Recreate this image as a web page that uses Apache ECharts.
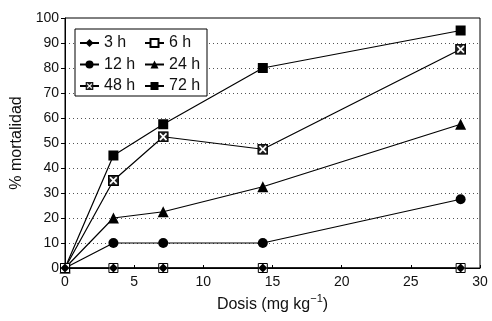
<!DOCTYPE html>
<html>
<head>
<meta charset="utf-8">
<script src="https://cdn.jsdelivr.net/npm/echarts@6/dist/echarts.min.js"></script>
<style>
html,body{margin:0;padding:0;background:#fff;}
#main{width:492px;height:321px;}
</style>
</head>
<body>
<div id="main"></div>
<script>
// dosis (mg/kg) y % mortalidad por tiempo
var dosis = [0, 3.5, 7.1, 14.3, 28.6];
var m3h = [0, 0, 0, 0, 0];
var m6h = [0, 0, 0, 0, 0];
var m12h = [0, 10, 10, 10, 27.5];
var m24h = [0, 20, 22.5, 32.5, 57.5];
var m48h = [0, 35, 52.5, 47.5, 87.5];
var m72h = [0, 45, 57.5, 80, 95];
var col1 = ['3 h', '12 h', '48 h'];
var col2 = ['6 h', '24 h', '72 h'];

var xSq = 'image://data:image/svg+xml;charset=utf-8,' + encodeURIComponent(
    "<svg xmlns='http://www.w3.org/2000/svg' width='20' height='20'>" +
    "<rect x='1' y='1' width='18' height='18' fill='#222' stroke='#000' stroke-width='2'/>" +
    "<path d='M4 4L16 16M16 4L4 16' stroke='#fff' stroke-width='3'/></svg>");

function pares(vals) {
    var out = [];
    for (var i = 0; i < dosis.length; i++) {
        out.push([dosis[i], vals[i]]);
    }
    return out;
}

function serie(nombre, vals, symbol, size, relleno) {
    return {
        name: nombre,
        type: 'line',
        data: pares(vals),
        symbol: symbol,
        symbolSize: size,
        showAllSymbol: true,
        lineStyle: {color: '#000', width: 1.2},
        itemStyle: {color: relleno || '#000', borderColor: '#000', borderWidth: relleno ? 1 : 0},
        animation: false
    };
}

function leyenda(datos, x) {
    return {
        data: datos,
        orient: 'vertical',
        left: x, top: 35,
        padding: 0,
        itemGap: 5.5,
        itemWidth: 19,
        itemHeight: 10,
        z: 10,
        textStyle: {fontSize: 16, color: '#111'}
    };
}

var myChart = echarts.init(document.getElementById('main'));
var option = {
    animation: false,
    textStyle: {fontFamily: 'Liberation Sans, Arial, sans-serif'},
    grid: {
        left: 65, right: 12, top: 18, bottom: 53,
        show: true, borderColor: '#000', borderWidth: 1
    },
    graphic: [{
        type: 'rect',
        shape: {x: 75, y: 29, width: 132, height: 67},
        style: {fill: '#fff', stroke: '#000', lineWidth: 1},
        z: 3
    }],
    legend: [leyenda(col1, 79), leyenda(col2, 144)],
    xAxis: {
        type: 'value',
        min: 0, max: 30, interval: 5,
        name: 'Dosis (mg kg{sup|−1})',
        nameLocation: 'middle',
        nameGap: 25,
        nameTextStyle: {
            fontSize: 16, color: '#111',
            rich: {sup: {fontSize: 11, color: '#111', padding: [0, 0, 10, 0]}}
        },
        axisLine: {lineStyle: {color: '#000', width: 1}},
        axisTick: {inside: true, length: 3, lineStyle: {color: '#000'}},
        axisLabel: {fontSize: 14, color: '#111', margin: 7},
        splitLine: {show: false}
    },
    yAxis: {
        type: 'value',
        min: 0, max: 100, interval: 10,
        name: '% mortalidad',
        nameLocation: 'middle',
        nameGap: 32,
        nameTextStyle: {fontSize: 16, color: '#111'},
        axisLine: {show: true, lineStyle: {color: '#000', width: 1}},
        axisTick: {show: true, length: 4, lineStyle: {color: '#000'}},
        axisLabel: {fontSize: 14, color: '#111', margin: 6},
        splitLine: {
            show: true, showMinLine: false, showMaxLine: false,
            lineStyle: {color: '#555', type: [1, 3], width: 1}
        }
    },
    series: [
        serie('72 h', m72h, 'rect', 10),
        serie('48 h', m48h, xSq, 11),
        serie('24 h', m24h, 'triangle', 11),
        serie('12 h', m12h, 'circle', 10),
        serie('6 h', m6h, 'rect', 9, '#fff'),
        serie('3 h', m3h, 'diamond', 9)
    ]
};
myChart.setOption(option);
</script>
</body>
</html>
